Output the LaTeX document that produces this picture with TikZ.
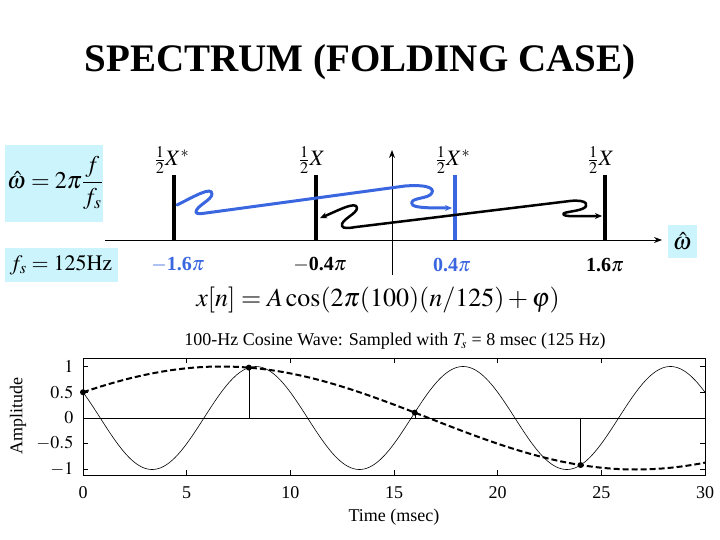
\documentclass[tikz,border=0pt]{standalone}
\usepackage{mathptmx}
\usepackage[no-math]{fontspec}
\setmainfont{Liberation Serif}
\usetikzlibrary{arrows.meta}
\definecolor{lb}{HTML}{CCF4FC}
\definecolor{bl}{HTML}{3A66E0}
\begin{document}
\begin{tikzpicture}[x=1pt,y=-1pt,
  bar/.style={line width=4pt},
  lab/.style={font=\fontsize{20}{22}\selectfont\bfseries},
  tk/.style={font=\fontsize{18}{20}\selectfont},
  sq/.style={line cap=round,line join=round}]
\useasboundingbox (0,0) rectangle (720,540);
\node (title) at (360,62) {\fontsize{39}{42}\selectfont\bfseries SPECTRUM (FOLDING CASE)};
% boxes
\fill[lb] (5,145) rectangle (103,222);
\node (wdef) at (55,183) {\fontsize{24}{26}\selectfont $\displaystyle\hat\omega = 2\pi\frac{f}{f_s}$};
\fill[lb] (5,248) rectangle (118,282);
\node (fs) at (61,265) {\fontsize{22}{24}\selectfont $f_s = 125\mathrm{Hz}$};
\fill[lb] (668,225) rectangle (697,258);
\node (wh) at (682,241) {\fontsize{24}{26}\selectfont $\hat\omega$};
% axes
\draw[-{Stealth[length=8pt]},line width=1pt] (105,240) -- (662,240);
\draw[-{Stealth[length=8pt]},line width=1pt] (392,275) -- (392,150);
\draw[bar] (174,240) -- (174,175);
\draw[bar] (316,240) -- (316,175);
\draw[bar,bl] (455,240) -- (455,175);
\draw[bar] (605,240) -- (605,175);
\node (l1) at (172,160) {\fontsize{22}{24}\selectfont $\frac12 X^{*}$};
\node (l2) at (312,160) {\fontsize{22}{24}\selectfont $\frac12 X$};
\node (l3) at (453,160) {\fontsize{22}{24}\selectfont $\frac12 X^{*}$};
\node (l4) at (601,160) {\fontsize{22}{24}\selectfont $\frac12 X$};
\node[lab,bl] (t1) at (178,265) {$-$1.6$\pi$};
\node[lab] (t2) at (320,265) {$-$0.4$\pi$};
\node[lab,bl] (t3) at (452,265) {0.4$\pi$};
\node[lab] (t4) at (605,265) {1.6$\pi$};
% squiggles
\draw[bl,line width=3pt,sq,-{Stealth[length=7pt,width=6pt]}]
 (177,205) .. controls (195,196) and (212,186) .. (212,194)
 .. controls (212,200) and (196,206) .. (196,212)
 .. controls (196,214) and (200,214) .. (206,213)
 -- (405,186) .. controls (432,184) and (436,190) .. (430,195)
 .. controls (424,199) and (410,198) .. (412,204)
 .. controls (413,208) and (430,208) .. (452,208);
\draw[line width=2.5pt,sq,{Stealth[length=7pt,width=6pt]}-{Stealth[length=7pt,width=6pt]}]
 (320,218) .. controls (335,212) and (357,200) .. (357,208)
 .. controls (357,214) and (340,220) .. (342,226)
 .. controls (343,229) and (350,228) .. (356,227)
 -- (570,201) .. controls (588,199) and (590,206) .. (582,209)
 .. controls (574,212) and (560,212) .. (564,215)
 .. controls (567,217) and (585,216) .. (602,216);
\node (eq) at (378,300) {\fontsize{26}{28}\selectfont $x[n] = A\cos(2\pi(100)(n/125)+\varphi)$};
% plot
\node (pt) at (395,341) {\fontsize{18}{20}\selectfont 100-Hz Cosine Wave: Sampled with $T_s$ = 8 msec (125 Hz)};
\draw (83,358) rectangle (705,475);
\draw (83,418) -- (705,418);
\foreach \v/\y in {1/366,0.5/392,0/418,-0.5/443,-1/469}{
  \node[tk,anchor=east] at (77,\y) {$\v$};
  \draw (83,\y) -- (88,\y); \draw (705,\y) -- (700,\y);}
\foreach \t in {0,5,...,30}{
  \pgfmathsetmacro\xx{83+\t*20.7333}
  \node[tk] at (\xx,493) {\t};
  \draw (\xx,475) -- (\xx,470); \draw (\xx,358) -- (\xx,363);}
\node[tk] (xl) at (394,517) {Time (msec)};
\node[tk,rotate=90] (yl) at (18,416) {Amplitude};
\draw[line width=0.6pt,domain=0:30,samples=300,variable=\t]
  plot ({83+\t*20.7333},{418-51.5*cos(deg(2*pi*0.1*\t+pi/3))});
\draw[line width=2pt,dashed,dash pattern=on 6pt off 3pt,domain=0:30,samples=100,variable=\t]
  plot ({83+\t*20.7333},{418-51.5*cos(deg(-2*pi*0.025*\t+pi/3))});
\foreach \n in {0,1,2,3}{
  \pgfmathsetmacro\xx{83+\n*165.8667}
  \pgfmathsetmacro\yy{418-51.5*cos(deg(-0.4*pi*\n+pi/3))}
  \draw (\xx,418) -- (\xx,\yy);
  \fill (\xx,\yy) circle (3pt);}
\end{tikzpicture}
\end{document}
